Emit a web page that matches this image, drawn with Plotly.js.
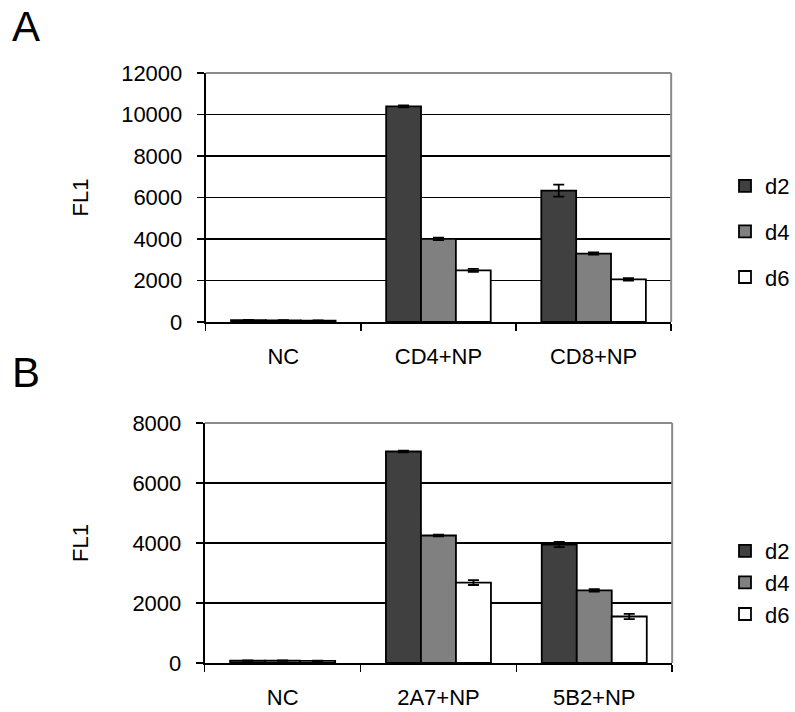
<!DOCTYPE html>
<html>
<head>
<meta charset="utf-8">
<script src="https://cdn.plot.ly/plotly-3.0.1.min.js"></script>
<style>
  html, body { margin: 0; padding: 0; background: #ffffff; }
  #chart { width: 795px; height: 712px; }
</style>
</head>
<body>
<div id="chart"></div>
<script>
// Panel A: uptake by cell type
const categoriesA = ['NC', 'CD4+NP', 'CD8+NP'];
const d2A = [90, 10390, 6330];
const d4A = [80, 4010, 3300];
const d6A = [70, 2490, 2050];
const d2AErr = [10, 50, 290];
const d4AErr = [10, 60, 50];
const d6AErr = [10, 70, 60];

// Panel B: uptake by clone
const categoriesB = ['NC', '2A7+NP', '5B2+NP'];
const d2B = [80, 7050, 3950];
const d4B = [80, 4250, 2420];
const d6B = [70, 2680, 1550];
const d2BErr = [10, 30, 90];
const d4BErr = [10, 30, 40];
const d6BErr = [10, 80, 90];

const seriesNames = ['d2', 'd4', 'd6'];
const seriesColors = ['#404040', '#808080', '#ffffff'];
const yTicksA = [0, 2000, 4000, 6000, 8000, 10000, 12000];
const yTicksB = [0, 2000, 4000, 6000, 8000];

const FONT = 'Liberation Sans, Arial, sans-serif';

function barTrace(name, cats, vals, errs, color, xa, ya, legendId, group) {
  return {
    type: 'bar',
    name: name,
    x: cats,
    y: vals,
    xaxis: xa,
    yaxis: ya,
    legend: legendId,
    legendgroup: group,
    marker: { color: color, line: { color: '#000000', width: 1.8 } },
    error_y: { type: 'data', array: errs, visible: true, color: '#000000', thickness: 1.8, width: 5.5 },
    hoverinfo: 'x+y+name'
  };
}

const traces = [
  barTrace(seriesNames[0], categoriesA, d2A, d2AErr, seriesColors[0], 'x', 'y', 'legend', 'a2'),
  barTrace(seriesNames[1], categoriesA, d4A, d4AErr, seriesColors[1], 'x', 'y', 'legend', 'a4'),
  barTrace(seriesNames[2], categoriesA, d6A, d6AErr, seriesColors[2], 'x', 'y', 'legend', 'a6'),
  barTrace(seriesNames[0], categoriesB, d2B, d2BErr, seriesColors[0], 'x2', 'y2', 'legend2', 'b2'),
  barTrace(seriesNames[1], categoriesB, d4B, d4BErr, seriesColors[1], 'x2', 'y2', 'legend2', 'b4'),
  barTrace(seriesNames[2], categoriesB, d6B, d6BErr, seriesColors[2], 'x2', 'y2', 'legend2', 'b6')
];

const W = 795, H = 712;
const px = v => v / W;
const py = v => (H - v) / H;

function xAxis(anchor, domain) {
  return {
    anchor: anchor,
    domain: domain,
    type: 'category',
    showline: true, linecolor: '#000000', linewidth: 2,
    ticks: 'outside', tickson: 'boundaries', ticklen: 7, tickwidth: 1.5, tickcolor: '#000000',
    ticklabelstandoff: 14,
    tickfont: { family: FONT, size: 22, color: '#000000' },
    showgrid: false, zeroline: false, fixedrange: true
  };
}

function yAxis(anchor, domain, range, ticks, titleGap) {
  return {
    anchor: anchor,
    domain: domain,
    range: range,
    tickvals: ticks,
    tickformat: 'd',
    showline: true, linecolor: '#000000', linewidth: 2,
    ticks: 'outside', ticklen: 7, tickwidth: 1.5, tickcolor: '#000000',
    ticklabelstandoff: 10,
    tickfont: { family: FONT, size: 22, color: '#000000' },
    showgrid: true, gridcolor: '#000000', gridwidth: 1.5,
    zeroline: false, fixedrange: true,
    title: { text: 'FL1', font: { family: FONT, size: 22, color: '#000000' }, standoff: titleGap }
  };
}

// grey top/right frame of each plot area
function frame(xr, yr) {
  const style = { color: '#8a8a8a', width: 2 };
  return [
    { type: 'line', xref: xr + ' domain', yref: yr + ' domain', x0: 0, x1: 1, y0: 1, y1: 1, line: style },
    { type: 'line', xref: xr + ' domain', yref: yr + ' domain', x0: 1, x1: 1, y0: 0, y1: 1, line: style }
  ];
}

const legendFont = { family: FONT, size: 22, color: '#000000' };

const layout = {
  width: W, height: H,
  margin: { l: 0, r: 0, t: 0, b: 0 },
  paper_bgcolor: '#ffffff',
  plot_bgcolor: '#ffffff',
  barmode: 'group',
  bargap: 0.326,
  bargroupgap: 0,
  font: { family: FONT, color: '#000000' },
  xaxis: xAxis('y', [px(206), px(672)]),
  yaxis: yAxis('x', [py(322), py(73)], [0, 12000], yTicksA, 26),
  xaxis2: xAxis('y2', [px(205), px(673)]),
  yaxis2: yAxis('x2', [py(663), py(423)], [0, 8000], yTicksB, 38),
  legend: {
    x: px(726), xanchor: 'left', y: py(165), yanchor: 'top',
    font: legendFont, tracegroupgap: 14, bgcolor: 'rgba(0,0,0,0)'
  },
  legend2: {
    x: px(726), xanchor: 'left', y: py(530), yanchor: 'top',
    font: legendFont, tracegroupgap: 0, bgcolor: 'rgba(0,0,0,0)'
  },
  shapes: [].concat(frame('x', 'y'), frame('x2', 'y2')),
  annotations: [
    { text: 'A', xref: 'paper', yref: 'paper', x: px(26), y: py(27), xanchor: 'center', yanchor: 'middle',
      showarrow: false, font: { family: FONT, size: 42, color: '#000000' } },
    { text: 'B', xref: 'paper', yref: 'paper', x: px(26), y: py(372), xanchor: 'center', yanchor: 'middle',
      showarrow: false, font: { family: FONT, size: 42, color: '#000000' } }
  ]
};

Plotly.newPlot('chart', traces, layout, { displayModeBar: false, staticPlot: true });
</script>
</body>
</html>
